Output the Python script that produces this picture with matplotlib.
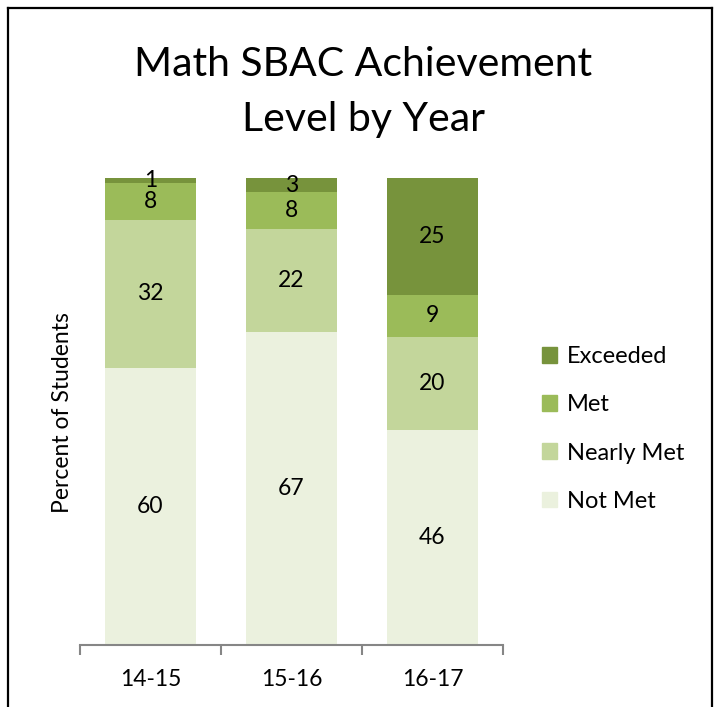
import matplotlib
matplotlib.use('Agg')
import matplotlib.pyplot as plt
import numpy as np
from matplotlib.patches import Patch
from matplotlib.lines import Line2D

plt.rcParams['font.family'] = ['Lato', 'DejaVu Sans']

years = ['14-15', '15-16', '16-17']
levels = ['Not Met', 'Nearly Met', 'Met', 'Exceeded']
not_met = [60, 67, 46]
nearly_met = [32, 22, 20]
met = [8, 8, 9]
exceeded = [1, 3, 25]
colors = ['#EBF1DE', '#C3D69B', '#9BBB59', '#77933C']

series = [not_met, nearly_met, met, exceeded]
totals = np.sum(series, axis=0)

fig = plt.figure(figsize=(7.18, 7.07), dpi=100)
ax = fig.add_axes([80 / 718, 1 - 645 / 707, 423 / 718, 467 / 707])

x = np.arange(len(years))
bottom = np.zeros(len(years))
for vals, col, name in zip(series, colors, levels):
    share = np.array(vals) / totals * 100
    ax.bar(x, share, 0.65, bottom=bottom, color=col, label=name)
    for xi, b, s, v in zip(x, bottom, share, vals):
        ax.text(xi, b + s / 2, str(v), ha='center', va='center', fontsize=16.5)
    bottom += share

ax.set_xlim(-0.5, 2.5)
ax.set_ylim(0, 100)
ax.set_yticks([])
for side in ['left', 'right', 'top']:
    ax.spines[side].set_visible(False)
ax.spines['bottom'].set_color('#868686')
ax.spines['bottom'].set_linewidth(1.5)

ax.set_xticks(x)
ax.set_xticklabels(years, fontsize=16.5)
ax.tick_params(axis='x', which='major', length=0, pad=17)
ax.set_xticks([-0.5, 0.5, 1.5, 2.5], minor=True)
ax.tick_params(axis='x', which='minor', length=7, width=1.5, color='#868686', direction='out')

fig.text(63 / 718, 1 - 413 / 707, 'Percent of Students', rotation=90,
         ha='center', va='center', fontsize=16.5)

fig.text(363 / 718, 1 - 92 / 707, 'Math SBAC Achievement\nLevel by Year',
         ha='center', va='center', fontsize=29.5, linespacing=1.62)

handles = [Patch(color=c) for c in colors][::-1]
fig.legend(handles, levels[::-1], loc='center left',
           bbox_to_anchor=(542 / 718, 1 - 429 / 707), frameon=False,
           fontsize=17, handlelength=0.65, handleheight=0.65,
           handletextpad=0.4, labelspacing=1.15, borderpad=0, borderaxespad=0)

# frame around the chart (bottom edge falls outside the picture)
for xs, ys in [([8, 8], [707, 8]), ([8, 712], [8, 8]), ([712, 712], [8, 707])]:
    fig.add_artist(Line2D(np.array(xs) / 718, 1 - np.array(ys) / 707,
                          color='black', linewidth=1.6, transform=fig.transFigure))

fig.savefig('out.png', dpi=100)
